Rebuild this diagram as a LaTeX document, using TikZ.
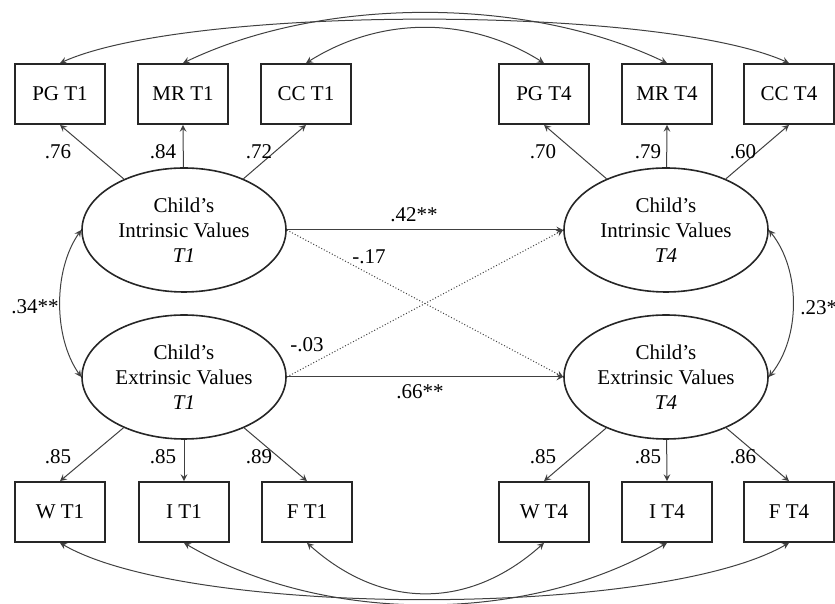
\documentclass[tikz,border=0pt]{standalone}
\usepackage{fontspec}
\setmainfont{Liberation Serif}
\usetikzlibrary{arrows, shapes}

\begin{document}
\begin{tikzpicture}[
		x=0.5pt, y=0.5pt,
		>=stealth,
		every node/.style={
				font=\fontsize{10.5}{12.5}\selectfont
			},
		indicator/.style={
				draw=black!85,
				line width=0.9pt,
				minimum width=45pt, % Box size
				minimum height=30pt,
				inner sep=0pt
			},
		latent/.style={
				ellipse,
				draw=black!85,
				line width=0.8pt,
				minimum width=102pt,
				minimum height=62pt,
				inner sep=0pt,
				align=center
			},
		link/.style={draw=black!75, line width=0.5pt},
		coeff/.style={inner sep=1pt}
	]
	\useasboundingbox (0,0) rectangle (835,604);

	% indicators, top row
	\node[indicator] (pg1) at (60, 510) {PG T1};
	\node[indicator] (mr1) at (183, 510) {MR T1};
	\node[indicator] (cc1) at (306, 510) {CC T1};
	\node[indicator] (pg4) at (544, 510) {PG T4};
	\node[indicator] (mr4) at (667, 510) {MR T4};
	\node[indicator] (cc4) at (789, 510) {CC T4};

	% indicators, bottom row
	\node[indicator] (w1) at (60, 92) {W T1};
	\node[indicator] (i1) at (184, 92) {I T1};
	\node[indicator] (f1) at (307, 92) {F T1};
	\node[indicator] (w4) at (544, 92) {W T4};
	\node[indicator] (i4) at (667, 92) {I T4};
	\node[indicator] (f4) at (789, 92) {F T4};

	% latent factors
	\node[latent] (int1) at (184, 374) {Child’s\\Intrinsic Values\\\textit{T1}};
	\node[latent] (int4) at (666, 374) {Child’s\\Intrinsic Values\\\textit{T4}};
	\node[latent] (ext1) at (184, 227) {Child’s\\Extrinsic Values\\\textit{T1}};
	\node[latent] (ext4) at (666, 227) {Child’s\\Extrinsic Values\\\textit{T4}};

	% loadings
	\draw[link, ->] (int1) -- (pg1.south);
	\draw[link, ->] (int1) -- (mr1.south);
	\draw[link, ->] (int1) -- (cc1.south);
	\draw[link, ->] (int4) -- (pg4.south);
	\draw[link, ->] (int4) -- (mr4.south);
	\draw[link, ->] (int4) -- (cc4.south);
	\draw[link, ->] (ext1) -- (w1.north);
	\draw[link, ->] (ext1) -- (i1.north);
	\draw[link, ->] (ext1) -- (f1.north);
	\draw[link, ->] (ext4) -- (w4.north);
	\draw[link, ->] (ext4) -- (i4.north);
	\draw[link, ->] (ext4) -- (f4.north);

	\node[coeff] (l1) at (58, 452) {.76};
	\node[coeff] (l2) at (163, 452) {.84};
	\node[coeff] (l3) at (259, 452) {.72};
	\node[coeff] (l4) at (543, 452) {.70};
	\node[coeff] (l5) at (648, 452) {.79};
	\node[coeff] (l6) at (743, 452) {.60};
	\node[coeff] (l7) at (58, 147) {.85};
	\node[coeff] (l8) at (163, 147) {.85};
	\node[coeff] (l9) at (259, 147) {.89};
	\node[coeff] (l10) at (543, 147) {.85};
	\node[coeff] (l11) at (648, 147) {.85};
	\node[coeff] (l12) at (743, 147) {.86};

	% paths between waves
	\draw[link, ->] (int1.east) -- (int4.west);
	\draw[link, ->] (ext1.east) -- (ext4.west);
	\draw[link, densely dotted, ->] (int1.east) -- (ext4.west);
	\draw[link, densely dotted, ->] (ext1.east) -- (int4.west);

	\node[coeff] (b1) at (414, 389) {.42**};
	\node[coeff] (b2) at (369, 347) {-.17};
	\node[coeff] (b3) at (307, 259) {-.03};
	\node[coeff] (b4) at (420, 212) {.66**};

	% covariances
	\draw[link, <->] (int1.west) .. controls +(-28,-40) and +(-28,40) .. (ext1.west);
	\draw[link, <->] (int4.east) .. controls +(32,-40) and +(32,40) .. (ext4.east);
	\node[coeff] (r1) at (35, 297) {.34**};
	\node[coeff, anchor=west] (r4) at (798, 296) {.23*};

	% correlated errors, top
	\draw[link, <->] (cc1.north) .. controls +(75,47) and +(-75,47) .. (pg4.north);
	\draw[link, <->] (mr1.north) .. controls +(140,67) and +(-140,67) .. (mr4.north);
	\draw[link, <->] (pg1.north) .. controls +(130,58) and +(-130,58) .. (cc4.north);

	% correlated errors, bottom
	\draw[link, <->] (f1.south) .. controls +(75,-67) and +(-75,-67) .. (w4.south);
	\draw[link, <->] (i1.south) .. controls +(140,-82) and +(-140,-82) .. (i4.south);
	\draw[link, <->] (w1.south) .. controls +(130,-75) and +(-130,-75) .. (f4.south);
\end{tikzpicture}
\end{document}
